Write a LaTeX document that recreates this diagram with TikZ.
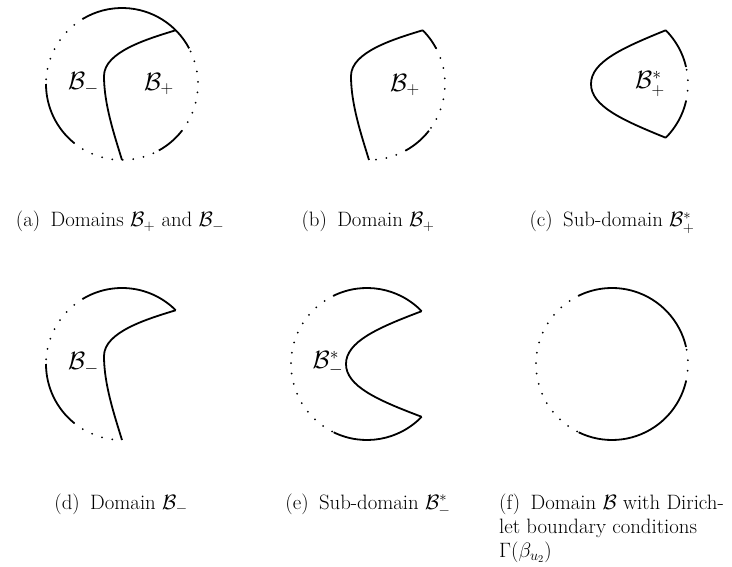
\RequirePackage{fix-cm}
\documentclass[tikz,border=0pt]{standalone}
\begin{document}
\begin{tikzpicture}[x=1pt,y=1pt,
  solidline/.style={line width=1.8pt},
  dotline/.style={line width=2pt,line cap=round,dash pattern=on 0pt off 10.5pt},
  lbl/.style={font=\fontsize{25}{30}\selectfont,inner sep=0pt},
  capt/.style={font=\fontsize{20.8}{24}\selectfont,inner sep=0pt,anchor=base},
  captl/.style={font=\fontsize{20.8}{24}\selectfont,inner sep=0pt,anchor=base west}]
\useasboundingbox (0,0) rectangle (732,566);
% ---------- (a)
\begin{scope}[shift={(122,482)}]
  \draw[solidline] (28:76) arc[start angle=28,end angle=121,radius=76];
  \draw[dotline] (121:76) arc[start angle=121,end angle=180,radius=76];
  \draw[solidline] (180:76) arc[start angle=180,end angle=231,radius=76];
  \draw[dotline] (231:76) arc[start angle=231,end angle=299,radius=76];
  \draw[solidline] (299:76) arc[start angle=299,end angle=322,radius=76];
  \draw[dotline] (322:76) arc[start angle=322,end angle=388,radius=76];
  \draw[solidline] (45:76) .. controls (25,45) and (-18,32) .. (-18,8)
     .. controls (-18,-20) and (-8,-50) .. (270:76);
  \node[lbl] (aminus) at (-38.5,0) {$\mathcal{B}_-$};
  \node[lbl] (aplus) at (37,0) {$\mathcal{B}_+$};
\end{scope}
% ---------- (b)
\begin{scope}[shift={(369,482)}]
  \draw[solidline] (45:76) arc[start angle=45,end angle=28,radius=76];
  \draw[dotline] (28:76) arc[start angle=28,end angle=-38,radius=76];
  \draw[solidline] (-38:76) arc[start angle=-38,end angle=-61,radius=76];
  \draw[dotline] (-61:76) arc[start angle=-61,end angle=-90,radius=76];
  \draw[solidline] (45:76) .. controls (25,45) and (-18,32) .. (-18,8)
     .. controls (-18,-20) and (-8,-50) .. (270:76);
  \node[lbl] (bplus) at (36,-1) {$\mathcal{B}_+$};
\end{scope}
% ---------- (c)
\begin{scope}[shift={(612,482)}]
  \draw[solidline] (13:76) arc[start angle=13,end angle=45,radius=76];
  \draw[dotline] (-13:76) arc[start angle=-13,end angle=13,radius=76];
  \draw[solidline] (-45:76) arc[start angle=-45,end angle=-13,radius=76];
  \draw[solidline] (45:76) .. controls (10,36) and (-21,22) .. (-21,0)
     .. controls (-21,-22) and (10,-36) .. (-45:76);
  \node[lbl] (cplus) at (38,0) {$\mathcal{B}_+^*$};
\end{scope}
% ---------- (d)
\begin{scope}[shift={(122,202)}]
  \draw[solidline] (45:76) arc[start angle=45,end angle=121,radius=76];
  \draw[dotline] (121:76) arc[start angle=121,end angle=180,radius=76];
  \draw[solidline] (180:76) arc[start angle=180,end angle=231,radius=76];
  \draw[dotline] (231:76) arc[start angle=231,end angle=270,radius=76];
  \draw[solidline] (45:76) .. controls (25,45) and (-18,32) .. (-18,8)
     .. controls (-18,-20) and (-8,-50) .. (270:76);
  \node[lbl] (dminus) at (-38.5,0) {$\mathcal{B}_-$};
\end{scope}
% ---------- (e)
\begin{scope}[shift={(367,202)}]
  \draw[solidline] (44:76) arc[start angle=44,end angle=116,radius=76];
  \draw[dotline] (116:76) arc[start angle=116,end angle=244,radius=76];
  \draw[solidline] (244:76) arc[start angle=244,end angle=316,radius=76];
  \draw[solidline] (44:76) .. controls (10,36) and (-21,22) .. (-21,0)
     .. controls (-21,-22) and (10,-36) .. (-44:76);
  \node[lbl] (eminus) at (-39,0) {$\mathcal{B}_-^*$};
\end{scope}
% ---------- (f)
\begin{scope}[shift={(612,202)}]
  \draw[solidline] (13:76) arc[start angle=13,end angle=116,radius=76];
  \draw[dotline] (116:76) arc[start angle=116,end angle=244,radius=76];
  \draw[solidline] (244:76) arc[start angle=244,end angle=347,radius=76];
  \draw[dotline] (-13:76) arc[start angle=-13,end angle=13,radius=76];
\end{scope}
% ---------- captions
\node[capt] (capa) at (120,339) {(a)\enspace Domains $\mathcal{B}_+$ and $\mathcal{B}_-$};
\node[capt] (capb) at (368,339) {(b)\enspace Domain $\mathcal{B}_+$};
\node[capt] (capc) at (612,339) {(c)\enspace Sub-domain $\mathcal{B}_+^*$};
\node[capt] (capd) at (121,57) {(d)\enspace Domain $\mathcal{B}_-$};
\node[capt] (cape) at (368,57) {(e)\enspace Sub-domain $\mathcal{B}_-^*$};
\node[captl] (capf1) at (499,57) {(f)\enspace Domain $\mathcal{B}$ with Dirich-};
\node[captl] (capf2) at (499,33) {let boundary conditions};
\node[captl] (capf3) at (499,9) {$\Gamma(\beta_{u_2})$};
\end{tikzpicture}
\end{document}
